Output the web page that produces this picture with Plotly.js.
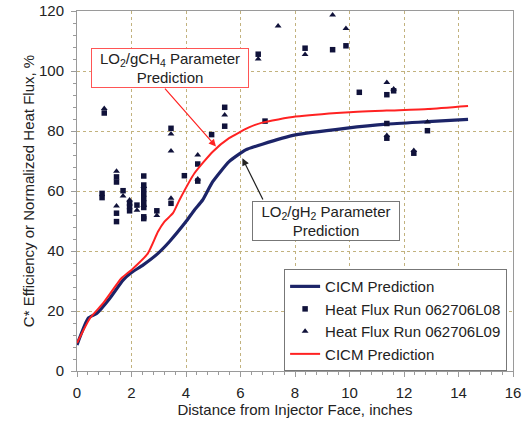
<!DOCTYPE html>
<html>
<head>
<meta charset="utf-8">
<script src="https://cdn.plot.ly/plotly-3.0.1.min.js"></script>
<style>html,body{margin:0;padding:0;background:#fff;}#chart{width:522px;height:423px;}</style>
</head>
<body>
<div id="chart"></div>
<script>
// CICM prediction, LO2/gH2 parameters (blue)
const blueX = [0, 0.41, 0.72, 1.2, 1.69, 2.0, 2.42, 2.91, 3.39, 4.0, 4.31, 4.61, 4.98, 5.58, 6.19, 6.8, 8.02, 9.84, 11.36, 12.88, 14.35];
const blueY = [8.7, 17.6, 19.2, 24.2, 30.3, 32.8, 35.3, 38.7, 43.1, 49.8, 53.7, 57.0, 63.1, 69.8, 73.7, 75.6, 78.7, 80.9, 82.3, 83.1, 83.9];
// CICM prediction, LO2/gCH4 parameters (red)
const redX = [0, 0.47, 0.96, 1.63, 2.0, 2.6, 2.97, 3.21, 3.52, 3.76, 4.31, 4.98, 5.58, 6.31, 6.8, 8.02, 9.84, 11.36, 12.88, 14.35];
const redY = [9.3, 17.5, 22.6, 30.9, 33.7, 39.2, 46.4, 49.8, 52.6, 57.0, 65.9, 73.1, 77.6, 81.2, 82.8, 84.8, 86.2, 86.8, 87.3, 88.3];
// Heat Flux Run 062706L08 (squares)
const l08X = [0.92, 0.92, 1.0, 1.45, 1.45, 1.45, 1.45, 1.69, 1.93, 1.93, 1.93, 2.2, 2.45, 2.45, 2.45, 2.45, 2.45, 2.45, 2.45, 2.45, 2.45, 2.93, 3.45, 3.45, 3.94, 4.43, 4.43, 4.94, 5.42, 5.42, 6.65, 6.9, 8.37, 9.38, 9.87, 10.36, 11.37, 11.37, 11.37, 11.62, 12.36, 12.86];
const l08Y = [59.2, 57.8, 86.0, 64.7, 63.0, 52.6, 49.8, 60.1, 55.9, 54.8, 53.4, 55.3, 65.0, 62.0, 60.5, 59.0, 57.5, 56.0, 54.5, 51.4, 50.8, 53.4, 80.9, 55.9, 65.1, 69.0, 63.3, 78.8, 87.9, 81.6, 105.6, 83.3, 107.6, 107.1, 108.4, 92.9, 92.1, 82.5, 77.6, 93.4, 72.6, 80.1];
// Heat Flux Run 062706L09 (triangles)
const l09X = [1.0, 1.45, 1.45, 1.69, 1.93, 2.2, 2.45, 2.45, 2.93, 3.45, 3.45, 3.45, 4.43, 4.43, 5.42, 6.65, 7.38, 8.37, 9.38, 9.87, 11.37, 11.37, 11.62, 12.36, 12.86];
const l09Y = [87.5, 66.6, 55.0, 58.3, 57.0, 53.6, 61.5, 55.2, 51.8, 79.0, 73.3, 57.6, 72.0, 64.0, 85.3, 104.0, 115.0, 105.5, 118.7, 114.2, 96.2, 78.5, 94.0, 73.5, 83.0];

const seriesNames = ["CICM Prediction", "Heat Flux Run 062706L08", "Heat Flux Run 062706L09", "CICM Prediction"];
const xTitle = "Distance from Injector Face, inches";
const yTitle = "C* Efficiency or Normalized Heat Flux, %";

const font = "Arial, 'Liberation Sans', sans-serif";
const markColor = "#10123a";

const traces = [
  {x: blueX, y: blueY, name: seriesNames[0], mode: "lines", line: {color: "#1c2468", width: 3.2, shape: "spline", smoothing: 0.5}},
  {x: l08X, y: l08Y, name: seriesNames[1], mode: "markers", marker: {symbol: "square", size: 5.5, color: markColor}},
  {x: l09X, y: l09Y, name: seriesNames[2], mode: "markers", marker: {symbol: "triangle-up", size: 6, color: markColor}},
  {x: redX, y: redY, name: seriesNames[3], mode: "lines", line: {color: "#ff2222", width: 2, shape: "spline", smoothing: 0.5}}
];

const axisCommon = {
  showline: true, linecolor: "#9a9a9a", linewidth: 1, mirror: true,
  showgrid: true, gridcolor: "#c2b27e", griddash: "dot", gridwidth: 1,
  zeroline: false, ticks: "outside", ticklen: 5, tickcolor: "#9a9a9a",
  tickfont: {family: font, size: 15, color: "#222"}
};

const layout = {
  width: 522, height: 423,
  margin: {l: 77, r: 9, t: 11, b: 52},
  paper_bgcolor: "#fff", plot_bgcolor: "#fff",
  font: {family: font, color: "#222"},
  showlegend: true,
  legend: {
    x: 0.475, y: 0.283, xanchor: "left", yanchor: "top",
    bgcolor: "#fff", bordercolor: "#777", borderwidth: 1,
    font: {family: font, size: 15, color: "#222"},
    itemwidth: 30, tracegroupgap: 0
  },
  xaxis: Object.assign({}, axisCommon, {
    range: [0, 16], dtick: 2, tick0: 0, ticklabelstandoff: 3,
    minor: {dtick: 0.4, ticks: "outside", ticklen: 3, tickcolor: "#9a9a9a", showgrid: false},
    title: {text: xTitle, font: {family: font, size: 15, color: "#222"}, standoff: 3}
  }),
  yaxis: Object.assign({}, axisCommon, {
    range: [0, 120], dtick: 20, tick0: 0, ticklabelstandoff: 4,
    minor: {dtick: 4, ticks: "outside", ticklen: 3, tickcolor: "#9a9a9a", showgrid: false},
    title: {text: yTitle, font: {family: font, size: 15, color: "#222"}, standoff: 0}
  }),
  annotations: [
    {xref: "x", yref: "y", x: 3.43, y: 101, text: "LO<sub>2</sub>/gCH<sub>4</sub> Parameter<br>Prediction",
     showarrow: false, font: {family: font, size: 15, color: "#222"},
     bgcolor: "#fff", bordercolor: "#ff5555", borderwidth: 1, borderpad: 2, width: 152, height: 34},
    {xref: "x", yref: "y", x: 5.1, y: 74.8, axref: "x", ayref: "y", ax: 3.18, ay: 94.6, text: "",
     showarrow: true, arrowhead: 2, arrowsize: 1.2, arrowwidth: 1.2, arrowcolor: "#ff2222"},
    {xref: "x", yref: "y", x: 9.12, y: 50, text: "LO<sub>2</sub>/gH<sub>2</sub> Parameter<br>Prediction",
     showarrow: false, font: {family: font, size: 15, color: "#222"},
     bgcolor: "#fff", bordercolor: "#777", borderwidth: 1, borderpad: 2, width: 142, height: 34},
    {xref: "x", yref: "y", x: 6.07, y: 70.9, axref: "x", ayref: "y", ax: 6.85, ay: 56.7, text: "",
     showarrow: true, arrowhead: 2, arrowsize: 1.2, arrowwidth: 1.2, arrowcolor: "#222"}
  ]
};

Plotly.newPlot("chart", traces, layout, {displayModeBar: false, staticPlot: true});
</script>
</body>
</html>
